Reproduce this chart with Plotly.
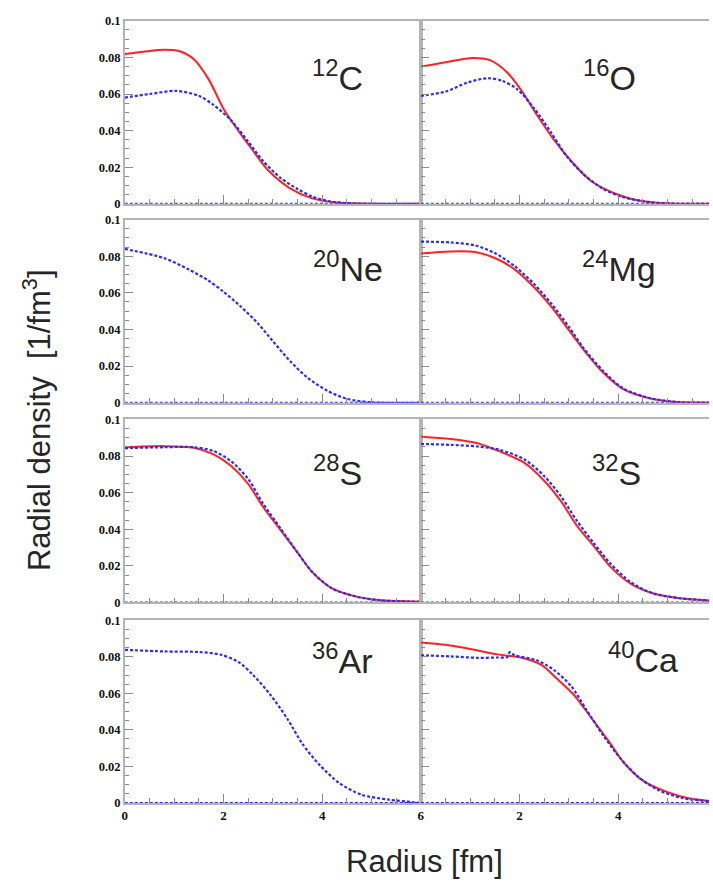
import plotly.graph_objects as go

# ---------------- data ----------------
nuclei = ["12C", "16O", "20Ne", "24Mg", "28S", "32S", "36Ar", "40Ca"]
label_mass = ["12", "16", "20", "24", "28", "32", "36", "40"]
label_elem = ["C", "O", "Ne", "Mg", "S", "S", "Ar", "Ca"]

c12_red_r = [0, 0.4, 0.8, 1.1, 1.4, 1.7, 2.0, 2.3, 2.6, 2.9, 3.35, 3.8, 4.35, 5.0, 6.0]
c12_red_v = [0.0818, 0.0832, 0.0842, 0.0835, 0.0790, 0.0680, 0.0520, 0.0400, 0.0290, 0.0185, 0.0085, 0.0030, 0.0006, 0.0, 0.0]
c12_blue_r = [0, 0.5, 1.05, 1.5, 1.8, 2.15, 2.5, 2.8, 3.15, 3.5, 3.8, 4.15, 4.5, 5.0, 6.0]
c12_blue_v = [0.0580, 0.0600, 0.0617, 0.0590, 0.0540, 0.0457, 0.0340, 0.0235, 0.0143, 0.0081, 0.0040, 0.0014, 0.0004, 0.0, 0.0]

o16_red_r = [0, 0.5, 1.05, 1.4, 1.75, 2.05, 2.35, 2.7, 3.05, 3.45, 4.0, 4.5, 5.05, 5.84]
o16_red_v = [0.0750, 0.0774, 0.0797, 0.0785, 0.0718, 0.0615, 0.0487, 0.0349, 0.0233, 0.0125, 0.0050, 0.0014, 0.0002, 0.0]
o16_blue_r = [0, 0.5, 0.95, 1.35, 1.65, 1.95, 2.3, 2.65, 2.95, 3.3, 3.7, 4.1, 4.65, 5.2, 5.84]
o16_blue_v = [0.0590, 0.0613, 0.0663, 0.0686, 0.0672, 0.0627, 0.0520, 0.0385, 0.0262, 0.0161, 0.0081, 0.0036, 0.0009, 0.0, 0.0]

ne20_red_r = []
ne20_red_v = []
ne20_blue_r = [0, 0.8, 1.3, 1.7, 2.0, 2.35, 2.7, 3.0, 3.35, 3.7, 4.1, 4.5, 5.0, 6.0]
ne20_blue_v = [0.0840, 0.0789, 0.0727, 0.0666, 0.0606, 0.0525, 0.0432, 0.0336, 0.0227, 0.0137, 0.0066, 0.0021, 0.0002, 0.0]

mg24_r = [0, 0.6, 1.1, 1.5, 1.9, 2.3, 2.65, 3.0, 3.3, 3.7, 4.1, 4.65, 5.2, 5.84]
mg24_red_v = [0.0815, 0.0826, 0.0823, 0.0790, 0.0728, 0.0629, 0.0522, 0.0396, 0.0289, 0.0163, 0.0074, 0.0023, 0.0003, 0.0]
mg24_blue_v = [0.0880, 0.0875, 0.0859, 0.0817, 0.0746, 0.0647, 0.0539, 0.0414, 0.0297, 0.0172, 0.0078, 0.0024, 0.0003, 0.0]

s28_r = [0, 0.8, 1.4, 1.8, 2.15, 2.5, 2.8, 3.15, 3.5, 3.8, 4.2, 4.7, 5.15, 6.0]
s28_red_v = [0.0848, 0.0854, 0.0845, 0.0809, 0.0747, 0.0648, 0.0523, 0.0398, 0.0273, 0.0166, 0.0077, 0.0032, 0.0014, 0.0005]
s28_blue_v = [0.0843, 0.0848, 0.0848, 0.0827, 0.0773, 0.0675, 0.0541, 0.0407, 0.0273, 0.0166, 0.0077, 0.0031, 0.0012, 0.0003]

s32_r = [0, 0.6, 1.15, 1.6, 2.1, 2.5, 2.85, 3.15, 3.5, 3.85, 4.25, 4.7, 5.25, 5.84]
s32_red_v = [0.0905, 0.0893, 0.0870, 0.0825, 0.0763, 0.0665, 0.0549, 0.0424, 0.0309, 0.0193, 0.0103, 0.0050, 0.0023, 0.0011]
s32_blue_v = [0.0866, 0.0861, 0.0852, 0.0834, 0.0781, 0.0691, 0.0576, 0.0451, 0.0326, 0.0210, 0.0112, 0.0050, 0.0023, 0.0011]

ar36_red_r = []
ar36_red_v = []
ar36_blue_r = [0, 0.8, 1.5, 1.95, 2.3, 2.6, 2.95, 3.3, 3.6, 3.95, 4.35, 4.8, 5.35, 5.85, 6.0]
ar36_blue_v = [0.0838, 0.0829, 0.0826, 0.0811, 0.0772, 0.0700, 0.0592, 0.0458, 0.0323, 0.0207, 0.0108, 0.0045, 0.0018, 0.0004, 0.0]

ca40_red_r = [0, 0.5, 1.05, 1.55, 2.05, 2.45, 2.75, 3.1, 3.45, 3.8, 4.1, 4.5, 5.0, 5.45, 5.84]
ca40_red_v = [0.0878, 0.0865, 0.0840, 0.0813, 0.0794, 0.0754, 0.0682, 0.0592, 0.0467, 0.0341, 0.0225, 0.0122, 0.0059, 0.0024, 0.0011]
ca40_blue_r = [0, 0.6, 1.15, 1.55, 1.75, 1.8, 1.9, 2.35, 2.7, 3.05, 3.35, 3.7, 4.05, 4.4, 4.8, 5.3, 5.84]
ca40_blue_v = [0.0808, 0.0802, 0.0794, 0.0796, 0.0798, 0.0825, 0.0808, 0.0781, 0.0727, 0.0638, 0.0512, 0.0368, 0.0242, 0.0144, 0.0072, 0.0027, 0.0010]

baseline_r = [0, 6]
baseline_v = [0, 0]

y_tickvals = [0, 0.02, 0.04, 0.06, 0.08, 0.1]
y_ticktext = ["0", "0.02", "0.04", "0.06", "0.08", "0.1"]
x_tickvals_left = [0, 2, 4, 6]
x_ticktext_left = ["0", "2", "4", "6"]
x_tickvals_right = [2, 4]
x_ticktext_right = ["2", "4"]

red_series = [
    (c12_red_r, c12_red_v), (o16_red_r, o16_red_v), (ne20_red_r, ne20_red_v), (mg24_r, mg24_red_v),
    (s28_r, s28_red_v), (s32_r, s32_red_v), (ar36_red_r, ar36_red_v), (ca40_red_r, ca40_red_v),
]
blue_series = [
    (c12_blue_r, c12_blue_v), (o16_blue_r, o16_blue_v), (ne20_blue_r, ne20_blue_v), (mg24_r, mg24_blue_v),
    (s28_r, s28_blue_v), (s32_r, s32_blue_v), (ar36_blue_r, ar36_blue_v), (ca40_blue_r, ca40_blue_v),
]

# ---------------- layout geometry ----------------
W, H = 713, 889
col_px = [(123, 422), (422, 713)]
row_px = [(14, 200), (216, 402), (419, 605), (623, 808.7)]
label_px = [(338, 70), (613, 70), (348, 264), (622, 264), (338, 471), (620, 471), (342, 662), (646, 661)]

RED = "#ff2222"
BLUE = "#2a2aff"
AX = "#b4b4b4"
TICK = "#8a8a8a"
TXT = "#262626"

fig = go.Figure()
layout = dict(
    width=W, height=H, margin=dict(l=0, r=0, t=0, b=0),
    paper_bgcolor="white", plot_bgcolor="white", showlegend=False,
)
annotations = []
bold = lambda lst: [f"<b>{t}</b>" for t in lst]

for i in range(8):
    row, col = divmod(i, 2)
    k = i + 1
    xa = "x" if k == 1 else f"x{k}"
    ya = "y" if k == 1 else f"y{k}"
    x0, x1 = col_px[col]
    yt, yb = row_px[row]
    xr = [0, 6] if col == 0 else [0, (713 - 422) / 49.83]
    bottom = row == 3
    layout["xaxis" if k == 1 else f"xaxis{k}"] = dict(
        domain=[x0 / W, x1 / W], range=xr, anchor=ya,
        showgrid=False, zeroline=False, showline=True, linecolor=AX, linewidth=1.5, mirror=True,
        ticks="inside", ticklen=9, tickcolor=TICK, tickwidth=1,
        tickmode="array",
        tickvals=(x_tickvals_left if col == 0 else x_tickvals_right),
        ticktext=bold(x_ticktext_left if col == 0 else x_ticktext_right),
        minor=dict(dtick=0.5, ticks="inside", ticklen=5, tickcolor=TICK, tickwidth=1),
        showticklabels=bottom,
        tickfont=dict(family="Liberation Serif", size=13, color="#111"),
        fixedrange=True,
    )
    layout["yaxis" if k == 1 else f"yaxis{k}"] = dict(
        domain=[1 - yb / H, 1 - yt / H], range=[0, 0.1], anchor=xa,
        showgrid=False, zeroline=False, showline=True, linecolor=AX, linewidth=1.5,
        mirror=(col == 0),
        ticks="inside", ticklen=8, tickcolor=TICK, tickwidth=1,
        tickmode="array", tickvals=y_tickvals, ticktext=bold(y_ticktext),
        minor=dict(dtick=0.005, ticks="inside", ticklen=4, tickcolor=TICK, tickwidth=1),
        showticklabels=(col == 0),
        tickfont=dict(family="Liberation Serif", size=12.5, color="#111"),
        fixedrange=True,
    )
    fig.add_trace(go.Scatter(x=baseline_r, y=baseline_v, xaxis=xa, yaxis=ya, mode="lines",
                             line=dict(color=BLUE, width=2, dash="3px,2px"), hoverinfo="skip"))
    rr, rv = red_series[i]
    if rr:
        fig.add_trace(go.Scatter(x=rr, y=rv, xaxis=xa, yaxis=ya, mode="lines",
                                 line=dict(color=RED, width=2, shape="spline", smoothing=0.8)))
    br, bv = blue_series[i]
    if br:
        fig.add_trace(go.Scatter(x=br, y=bv, xaxis=xa, yaxis=ya, mode="lines",
                                 line=dict(color=BLUE, width=2.2, dash="3px,2px", shape="spline", smoothing=0.8)))
    lx, ly = label_px[i]
    annotations.append(dict(
        x=lx / W, y=1 - ly / H, xref="paper", yref="paper", xanchor="center", yanchor="middle",
        text=f"<sup>{label_mass[i]}</sup>{label_elem[i]}", showarrow=False,
        font=dict(family="Liberation Sans", size=34, color=TXT),
    ))

annotations.append(dict(
    x=426 / W, y=1 - 868 / H, xref="paper", yref="paper", xanchor="center", yanchor="middle",
    text="Radius [fm]", showarrow=False, font=dict(family="Liberation Sans", size=31, color=TXT),
))
annotations.append(dict(
    x=35 / W, y=1 - 420 / H, xref="paper", yref="paper", xanchor="center", yanchor="middle",
    text="Radial density  [1/fm<sup>3</sup>]", textangle=-90, showarrow=False,
    font=dict(family="Liberation Sans", size=31, color=TXT),
))
layout["annotations"] = annotations
fig.update_layout(**layout)
fig.write_html("out.html")
